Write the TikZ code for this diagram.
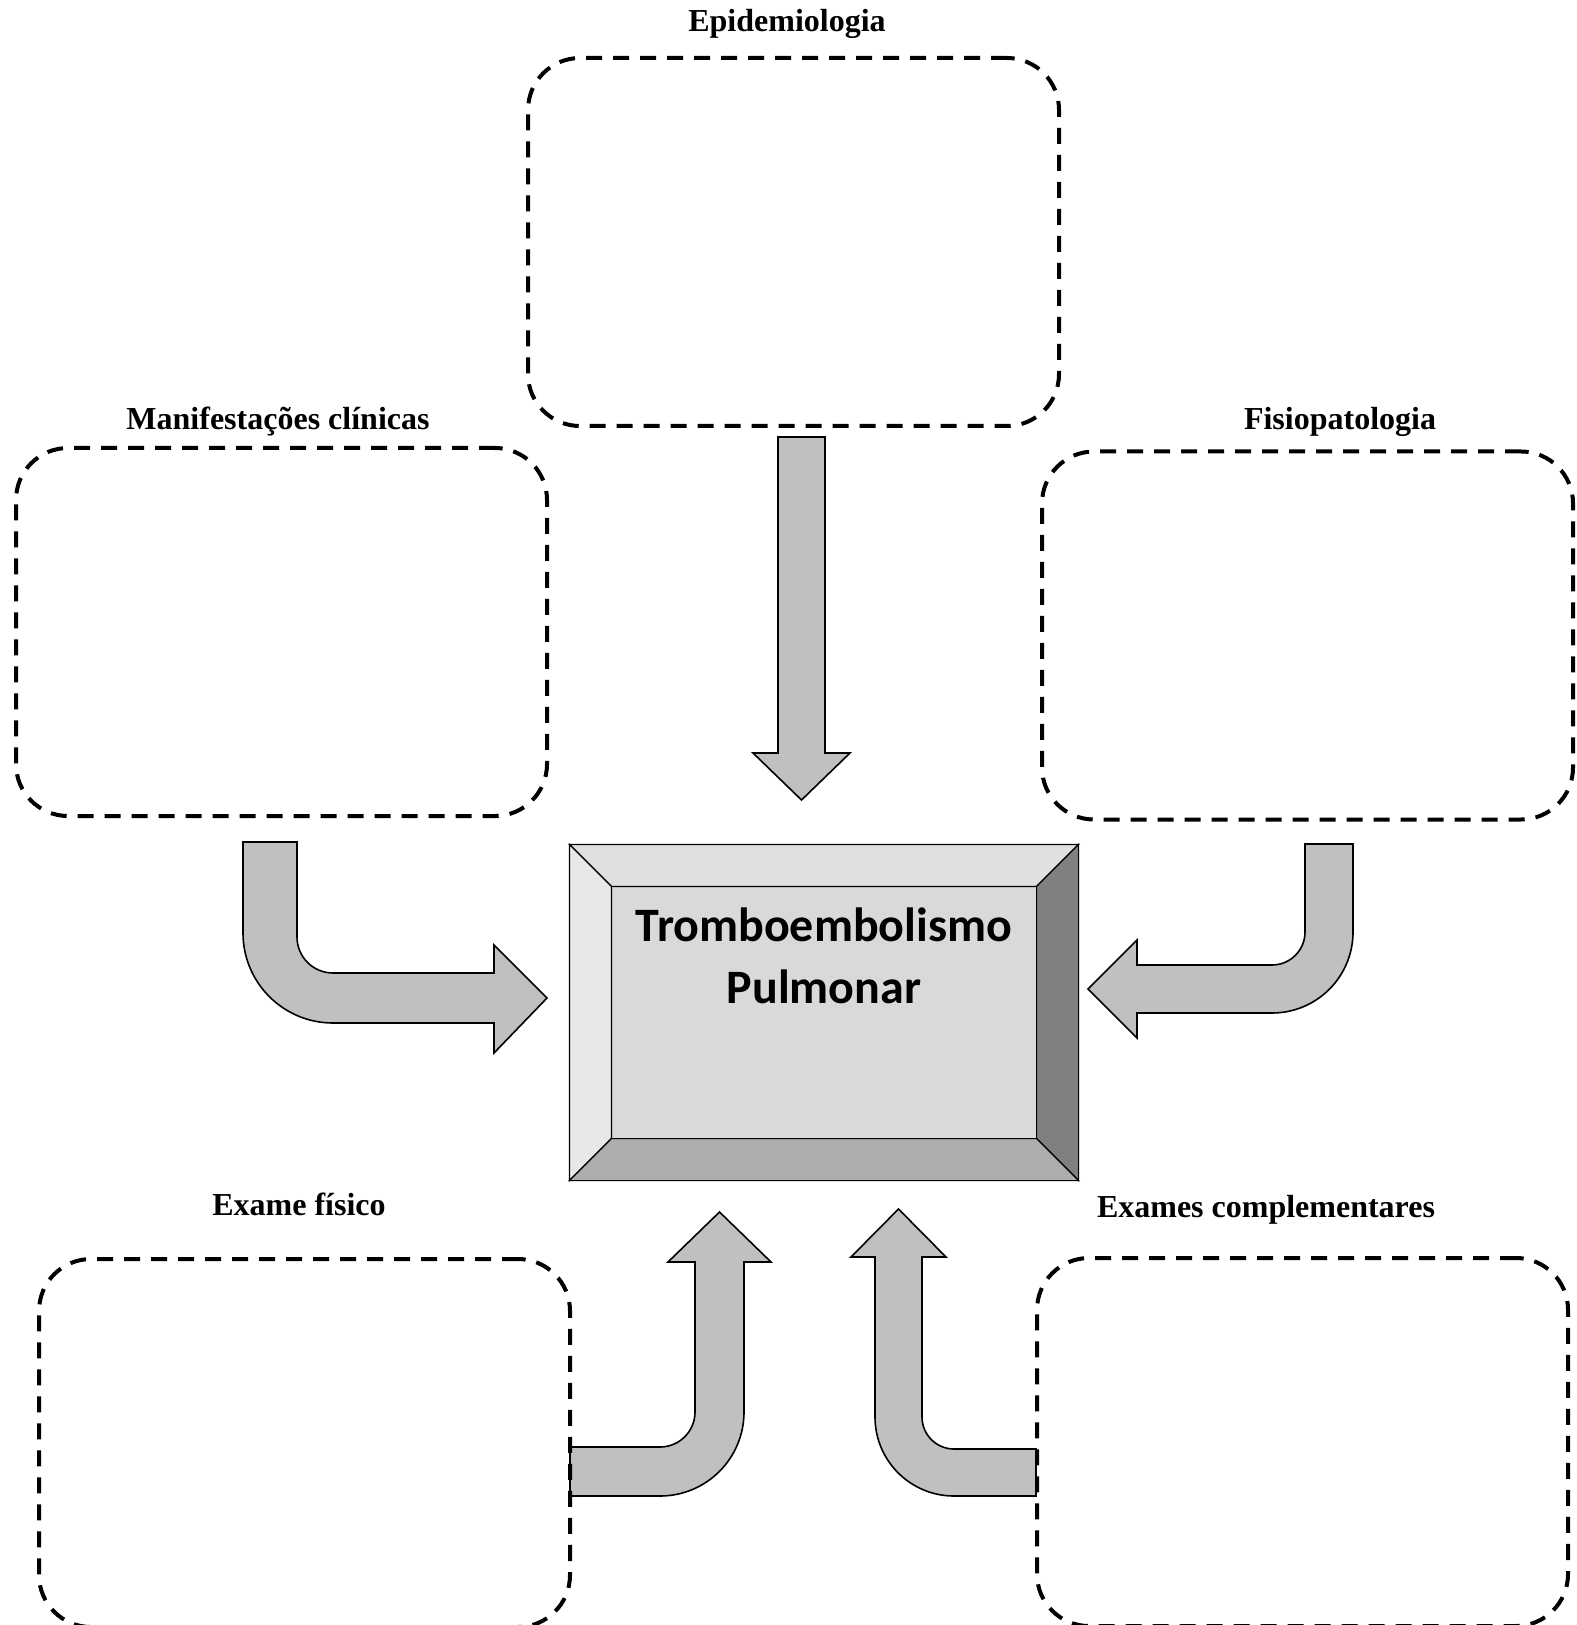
\documentclass[tikz,border=0pt]{standalone}
\usepackage{fontspec}
\setmainfont{Liberation Serif}
\newfontfamily\calibrifont{Carlito}
\usetikzlibrary{positioning, calc}

\definecolor{arrowgray}{HTML}{C0C0C0}
\definecolor{facegray}{HTML}{D9D9D9}
\definecolor{topgray}{HTML}{E0E0E0}
\definecolor{leftgray}{HTML}{E8E8E8}
\definecolor{rightgray}{HTML}{808080}
\definecolor{bottomgray}{HTML}{ADADAD}

\begin{document}
\begin{tikzpicture}[
    x=0.5pt, y=-0.5pt,
    topicbox/.style={rectangle, draw, line width=2pt, dash pattern=on 8pt off 5.5pt, rounded corners=26pt, minimum width=265.5pt, minimum height=184pt, inner sep=0pt},
    topiclabel/.style={anchor=base, inner sep=0pt, font=\fontsize{16}{19}\selectfont\bfseries},
    blockarrow/.style={draw, fill=arrowgray, line width=0.8pt, line join=miter},
    bevel/.style={draw, line width=0.6pt}
  ]
    \useasboundingbox (0,0) rectangle (1576,1625);
    \clip (0,0) rectangle (1576,1625);

    % Block arrows
    \draw[blockarrow] (778,437) -- (825,437) -- (825,753) -- (850,753) -- (801.5,800) -- (753,753) -- (778,753) -- cycle;
    \draw[blockarrow] (243,842) -- (297,842) -- (297,937) arc[start angle=180, end angle=90, radius=36] -- (494,973) -- (494,945) -- (547,998) -- (494,1053) -- (494,1023) -- (333,1023) arc[start angle=90, end angle=180, radius=90] -- cycle;
    \draw[blockarrow] (1353,844) -- (1305,844) -- (1305,932) arc[start angle=0, end angle=90, radius=33] -- (1137,965) -- (1137,940) -- (1088,989) -- (1137,1038) -- (1137,1013) -- (1272,1013) arc[start angle=90, end angle=0, radius=81] -- cycle;
    \draw[blockarrow] (570,1447) -- (660,1447) arc[start angle=90, end angle=0, radius=35] -- (695,1262) -- (668,1262) -- (719.5,1212) -- (771,1262) -- (744,1262) -- (744,1412) arc[start angle=0, end angle=90, radius=84] -- (570,1496) -- cycle;
    \draw[blockarrow] (1036,1449) -- (954,1449) arc[start angle=90, end angle=180, radius=32] -- (922,1257) -- (946,1257) -- (898.5,1209) -- (851,1257) -- (875,1257) -- (875,1417) arc[start angle=180, end angle=90, radius=79] -- (1036,1496) -- cycle;

    % Topic boxes
    \node[topicbox] (epi) at (793.5,242) {};
    \node[topicbox] (manif) at (281.5,632) {};
    \node[topicbox] (fisio) at (1307.5,635.5) {};
    \node[topicbox] (exfis) at (304.5,1443) {};
    \node[topicbox] (excomp) at (1302.5,1442) {};

    % Labels
    \node[topiclabel] (epilabel) at (787,32) {Epidemiologia};
    \node[topiclabel] (maniflabel) at (278,430) {Manifestações clínicas};
    \node[topiclabel] (fisiolabel) at (1340,430) {Fisiopatologia};
    \node[topiclabel] (exfislabel) at (299,1215) {Exame físico};
    \node[topiclabel] (excomplabel) at (1266,1217) {Exames complementares};

    % Central bevelled box
    \node[bevel, fill=facegray, minimum width=254pt, minimum height=167.5pt, inner sep=0pt] (tep) at (824,1012.5) {};
    \draw[bevel, fill=topgray] (tep.north west) -- (tep.north east) -- ($(tep.north east)+(-42,42)$) -- ($(tep.north west)+(42,42)$) -- cycle;
    \draw[bevel, fill=leftgray] (tep.north west) -- ($(tep.north west)+(42,42)$) -- ($(tep.south west)+(42,-42)$) -- (tep.south west) -- cycle;
    \draw[bevel, fill=rightgray] (tep.north east) -- ($(tep.north east)+(-42,42)$) -- ($(tep.south east)+(-42,-42)$) -- (tep.south east) -- cycle;
    \draw[bevel, fill=bottomgray] (tep.south west) -- ($(tep.south west)+(42,-42)$) -- ($(tep.south east)+(-42,-42)$) -- (tep.south east) -- cycle;
    \node[anchor=base, align=center, inner sep=0pt, font=\calibrifont\bfseries\fontsize{24}{31}\selectfont] (teptext) at (824,1003) {Tromboembolismo\\Pulmonar};
\end{tikzpicture}
\end{document}
